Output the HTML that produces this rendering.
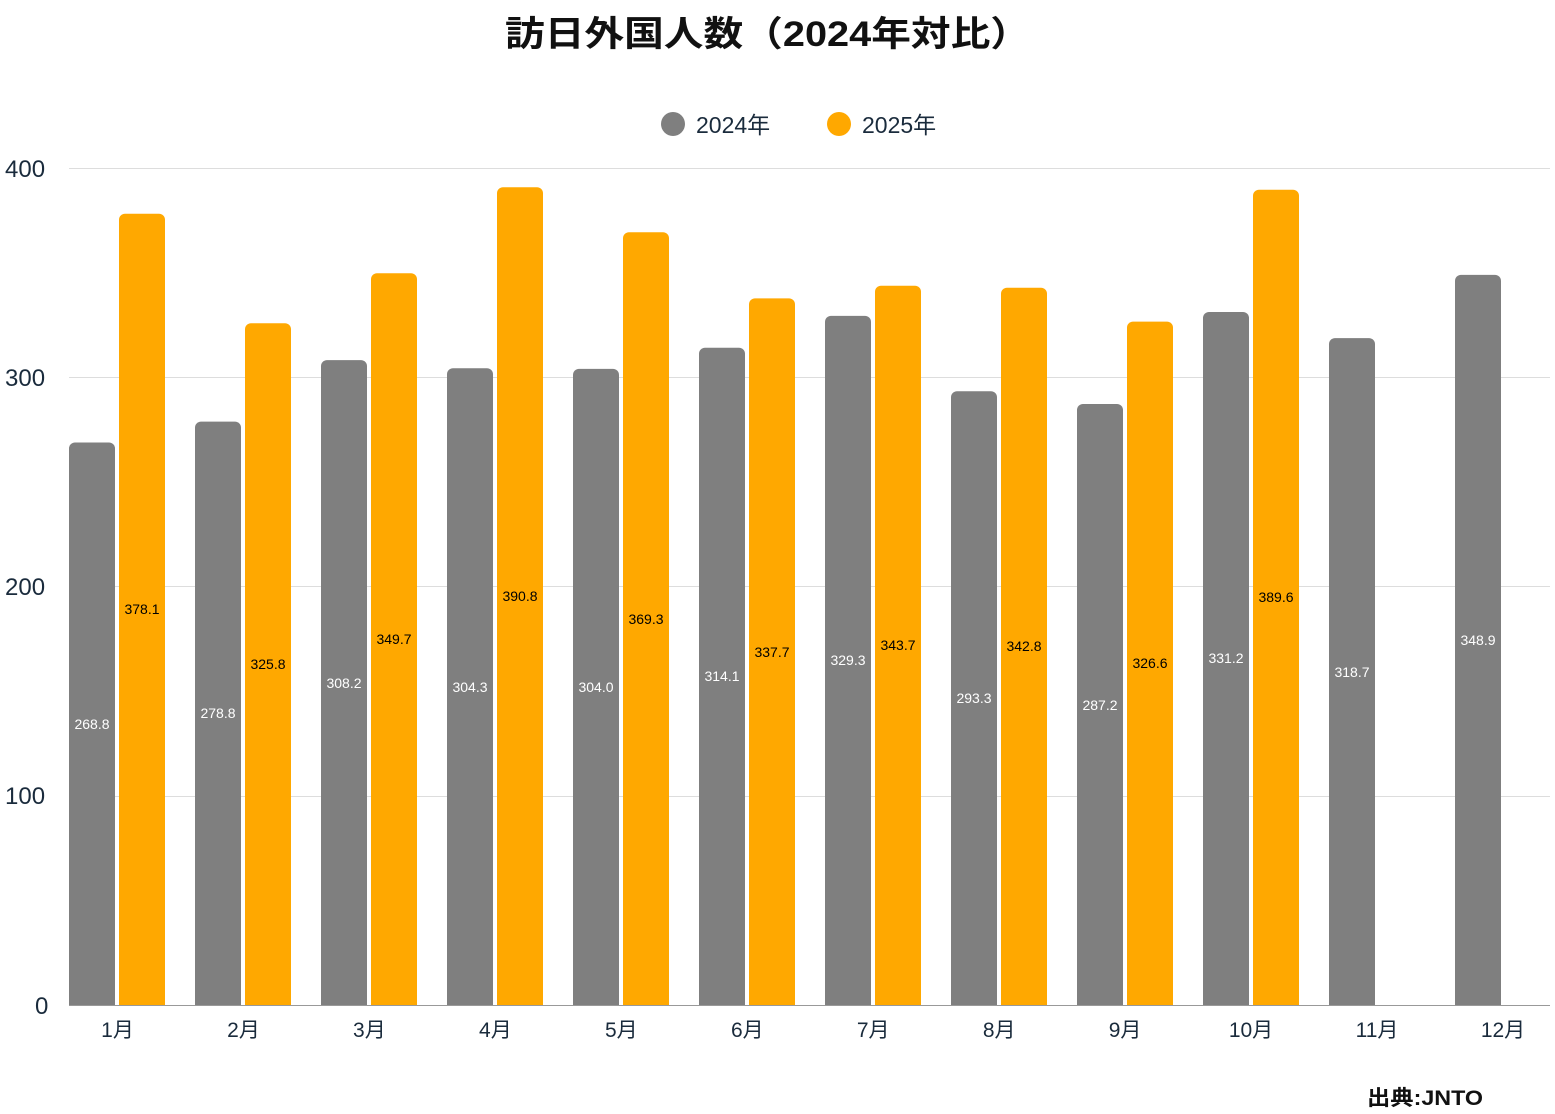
<!DOCTYPE html>
<html><head><meta charset="utf-8"><style>body{margin:0;background:#fff}svg{display:block}</style></head><body>
<svg width="1555" height="1114" xmlns="http://www.w3.org/2000/svg" font-family="'Liberation Sans','Noto Sans CJK JP',sans-serif">
<text x="505" y="46" font-size="35" font-weight="bold" fill="#111" textLength="525" lengthAdjust="spacingAndGlyphs">訪日外国人数（2024年対比）</text>
<circle cx="673" cy="124" r="12" fill="#7f7f7f"/><text x="696" y="133" font-size="23" fill="#1a2b3c">2024年</text>
<circle cx="839" cy="124" r="12" fill="#ffa800"/><text x="862" y="133" font-size="23" fill="#1a2b3c">2025年</text>
<g stroke="#dddddd" stroke-width="1">
<line x1="69" x2="1550" y1="168.5" y2="168.5"/><line x1="69" x2="1550" y1="377.5" y2="377.5"/>
<line x1="69" x2="1550" y1="586.5" y2="586.5"/><line x1="69" x2="1550" y1="796.5" y2="796.5"/>
</g>
<g font-size="24" fill="#1a2b3c">
<text x="5" y="177">400</text><text x="5" y="386">300</text><text x="5" y="595">200</text><text x="5" y="804">100</text><text x="35" y="1014">0</text>
</g>
<g fill="#7f7f7f">
<rect x="69" y="442.5" width="46" height="572.5" rx="6"/>
<rect x="195" y="421.6" width="46" height="593.4" rx="6"/>
<rect x="321" y="360.1" width="46" height="654.9" rx="6"/>
<rect x="447" y="368.3" width="46" height="646.7" rx="6"/>
<rect x="573" y="368.9" width="46" height="646.1" rx="6"/>
<rect x="699" y="347.8" width="46" height="667.2" rx="6"/>
<rect x="825" y="315.9" width="46" height="699.1" rx="6"/>
<rect x="951" y="391.3" width="46" height="623.7" rx="6"/>
<rect x="1077" y="404.0" width="46" height="611" rx="6"/>
<rect x="1203" y="312.0" width="46" height="703" rx="6"/>
<rect x="1329" y="338.1" width="46" height="676.9" rx="6"/>
<rect x="1455" y="274.9" width="46" height="740.1" rx="6"/>
</g>
<g fill="#ffa800">
<rect x="119" y="213.8" width="46" height="801.2" rx="6"/>
<rect x="245" y="323.3" width="46" height="691.7" rx="6"/>
<rect x="371" y="273.3" width="46" height="741.7" rx="6"/>
<rect x="497" y="187.3" width="46" height="827.7" rx="6"/>
<rect x="623" y="232.2" width="46" height="782.8" rx="6"/>
<rect x="749" y="298.4" width="46" height="716.6" rx="6"/>
<rect x="875" y="285.8" width="46" height="729.2" rx="6"/>
<rect x="1001" y="287.7" width="46" height="727.3" rx="6"/>
<rect x="1127" y="321.6" width="46" height="693.4" rx="6"/>
<rect x="1253" y="189.8" width="46" height="825.2" rx="6"/>
</g>
<rect x="60" y="1005.5" width="1495" height="12" fill="#fff"/>
<line x1="69" x2="1550" y1="1005.5" y2="1005.5" stroke="#999" stroke-width="1"/>
<g font-size="14" fill="#fff" text-anchor="middle">
<text x="92" y="729">268.8</text><text x="218" y="718">278.8</text><text x="344" y="688">308.2</text>
<text x="470" y="692">304.3</text><text x="596" y="692">304.0</text><text x="722" y="681">314.1</text>
<text x="848" y="665">329.3</text><text x="974" y="703">293.3</text><text x="1100" y="710">287.2</text>
<text x="1226" y="663">331.2</text><text x="1352" y="677">318.7</text><text x="1478" y="645">348.9</text>
</g>
<g font-size="14" fill="#000" text-anchor="middle">
<text x="142" y="614">378.1</text><text x="268" y="669">325.8</text><text x="394" y="644">349.7</text>
<text x="520" y="601">390.8</text><text x="646" y="624">369.3</text><text x="772" y="657">337.7</text>
<text x="898" y="650">343.7</text><text x="1024" y="651">342.8</text><text x="1150" y="668">326.6</text>
<text x="1276" y="602">389.6</text>
</g>
<g font-size="21" fill="#1a2b3c" text-anchor="middle">
<text x="117.5" y="1037">1月</text><text x="243.5" y="1037">2月</text><text x="369.4" y="1037">3月</text>
<text x="495.4" y="1037">4月</text><text x="621.3" y="1037">5月</text><text x="747.3" y="1037">6月</text>
<text x="873.2" y="1037">7月</text><text x="999.2" y="1037">8月</text><text x="1125.1" y="1037">9月</text>
<text x="1251" y="1037">10月</text><text x="1377" y="1037">11月</text><text x="1503" y="1037">12月</text>
</g>
<text x="1367" y="1105" font-size="21" font-weight="bold" fill="#111" textLength="116" lengthAdjust="spacingAndGlyphs">出典:JNTO</text>
</svg>
</body></html>
